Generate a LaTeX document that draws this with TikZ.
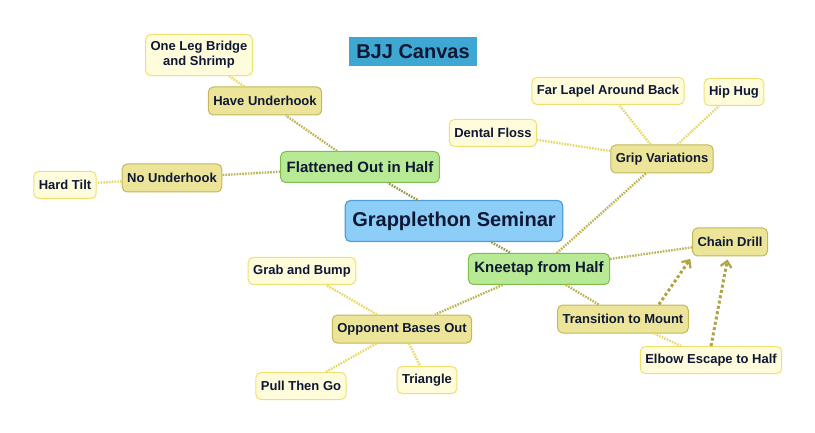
\documentclass[tikz,border=0pt]{standalone}
\usepackage{fontspec}
\setmainfont{Liberation Sans}
\usetikzlibrary{positioning}
\usetikzlibrary{arrows.meta}

\definecolor{titleblue}{RGB}{62,168,211}
\definecolor{rootfill}{RGB}{140,206,247}
\definecolor{rootline}{RGB}{84,158,214}
\definecolor{topicfill}{RGB}{184,233,148}
\definecolor{topicline}{RGB}{124,190,80}
\definecolor{subfill}{RGB}{236,228,152}
\definecolor{subline}{RGB}{196,184,92}
\definecolor{leaffill}{RGB}{255,252,220}
\definecolor{leafline}{RGB}{240,224,112}
\definecolor{linkgreen}{RGB}{150,152,80}
\definecolor{linkolive}{RGB}{190,178,82}
\definecolor{linkyellow}{RGB}{232,216,100}
\definecolor{arrowolive}{RGB}{176,164,68}
\definecolor{inkblue}{RGB}{14,24,52}

\begin{document}
\begin{tikzpicture}[x=1pt,y=-1pt,
      title/.style={rectangle,fill=titleblue,text=inkblue,inner xsep=7pt,minimum height=29pt,font=\fontsize{20}{24}\selectfont\bfseries},
      root/.style={rectangle,rounded corners=5pt,draw=rootline,fill=rootfill,text=inkblue,line width=1.2pt,inner xsep=7pt,minimum height=41pt,font=\fontsize{20}{24}\selectfont\bfseries},
      topic/.style={rectangle,rounded corners=5pt,draw=topicline,fill=topicfill,text=inkblue,line width=1pt,inner xsep=6pt,minimum height=31pt,font=\fontsize{15}{18}\selectfont\bfseries},
      sub/.style={rectangle,rounded corners=5pt,draw=subline,fill=subfill,text=inkblue,line width=1pt,inner xsep=5pt,minimum height=28pt,font=\fontsize{13}{15}\selectfont\bfseries},
      leaf/.style={rectangle,rounded corners=5pt,draw=leafline,fill=leaffill,text=inkblue,line width=1pt,inner xsep=5pt,inner ysep=7pt,minimum height=27pt,align=center,font=\fontsize{13}{15}\selectfont\bfseries},
      link/.style={line width=2.4pt,dash pattern=on 1.6pt off 1.2pt},
      chainarrow/.style={draw=arrowolive,line width=3pt,dash pattern=on 3pt off 2.4pt,shorten >=3pt,
        -{Straight Barb[length=6pt,width=11pt,line width=2.2pt]}},
  ]
  \useasboundingbox (0,0) rectangle (815,433);

  % Title
  \node[title] (title) at (413,52) {BJJ Canvas};

  % Centre and main topics
  \node[root] (main) at (454,221) {Grapplethon Seminar};
  \node[topic] (flat) at (360,167) {Flattened Out in Half};
  \node[topic] (knee) at (539,269) {Kneetap from Half};

  % Flattened out branch
  \node[sub] (have) at (265,101) {Have Underhook};
  \node[sub] (nouh) at (172,178) {No Underhook};
  \node[leaf] (oneleg) at (199,55) {One Leg Bridge\\and Shrimp};
  \node[leaf] (hardtilt) at (65,185) {Hard Tilt};

  % Kneetap branch
  \node[sub] (grip) at (662,159) {Grip Variations};
  \node[leaf] (floss) at (493,133) {Dental Floss};
  \node[leaf] (lapel) at (608,91) {Far Lapel Around Back};
  \node[leaf] (hiphug) at (734,92) {Hip Hug};
  \node[sub] (chain) at (730,242) {Chain Drill};
  \node[sub] (mount) at (623,319) {Transition to Mount};
  \node[leaf] (elbow) at (711,360) {Elbow Escape to Half};
  \node[sub] (bases) at (402,329) {Opponent Bases Out};
  \node[leaf] (bump) at (302,271) {Grab and Bump};
  \node[leaf] (pull) at (301,386) {Pull Then Go};
  \node[leaf] (triangle) at (427,380) {Triangle};

  % Links
  \draw[link,draw=linkgreen] (main) -- (flat);
  \draw[link,draw=linkgreen] (main) -- (knee);
  \draw[link,draw=linkolive] (flat) -- (have);
  \draw[link,draw=linkolive] (flat) -- (nouh);
  \draw[link,draw=linkyellow] (have) -- (oneleg);
  \draw[link,draw=linkyellow] (nouh) -- (hardtilt);
  \draw[link,draw=linkolive] (knee) -- (grip);
  \draw[link,draw=linkolive] (knee) -- (chain);
  \draw[link,draw=linkolive] (knee) -- (mount);
  \draw[link,draw=linkolive] (knee) -- (bases);
  \draw[link,draw=linkyellow] (grip) -- (floss);
  \draw[link,draw=linkyellow] (grip) -- (lapel);
  \draw[link,draw=linkyellow] (grip) -- (hiphug);
  \draw[link,draw=linkyellow] (mount) -- (elbow);
  \draw[link,draw=linkyellow] (bases) -- (bump);
  \draw[link,draw=linkyellow] (bases) -- (pull);
  \draw[link,draw=linkyellow] (bases) -- (triangle);

  % Chain drill arrows
  \draw[chainarrow] (mount.22) -- (chain.south west);
  \draw[chainarrow] (elbow.north) -- ([xshift=-2pt]chain.south);
\end{tikzpicture}
\end{document}
